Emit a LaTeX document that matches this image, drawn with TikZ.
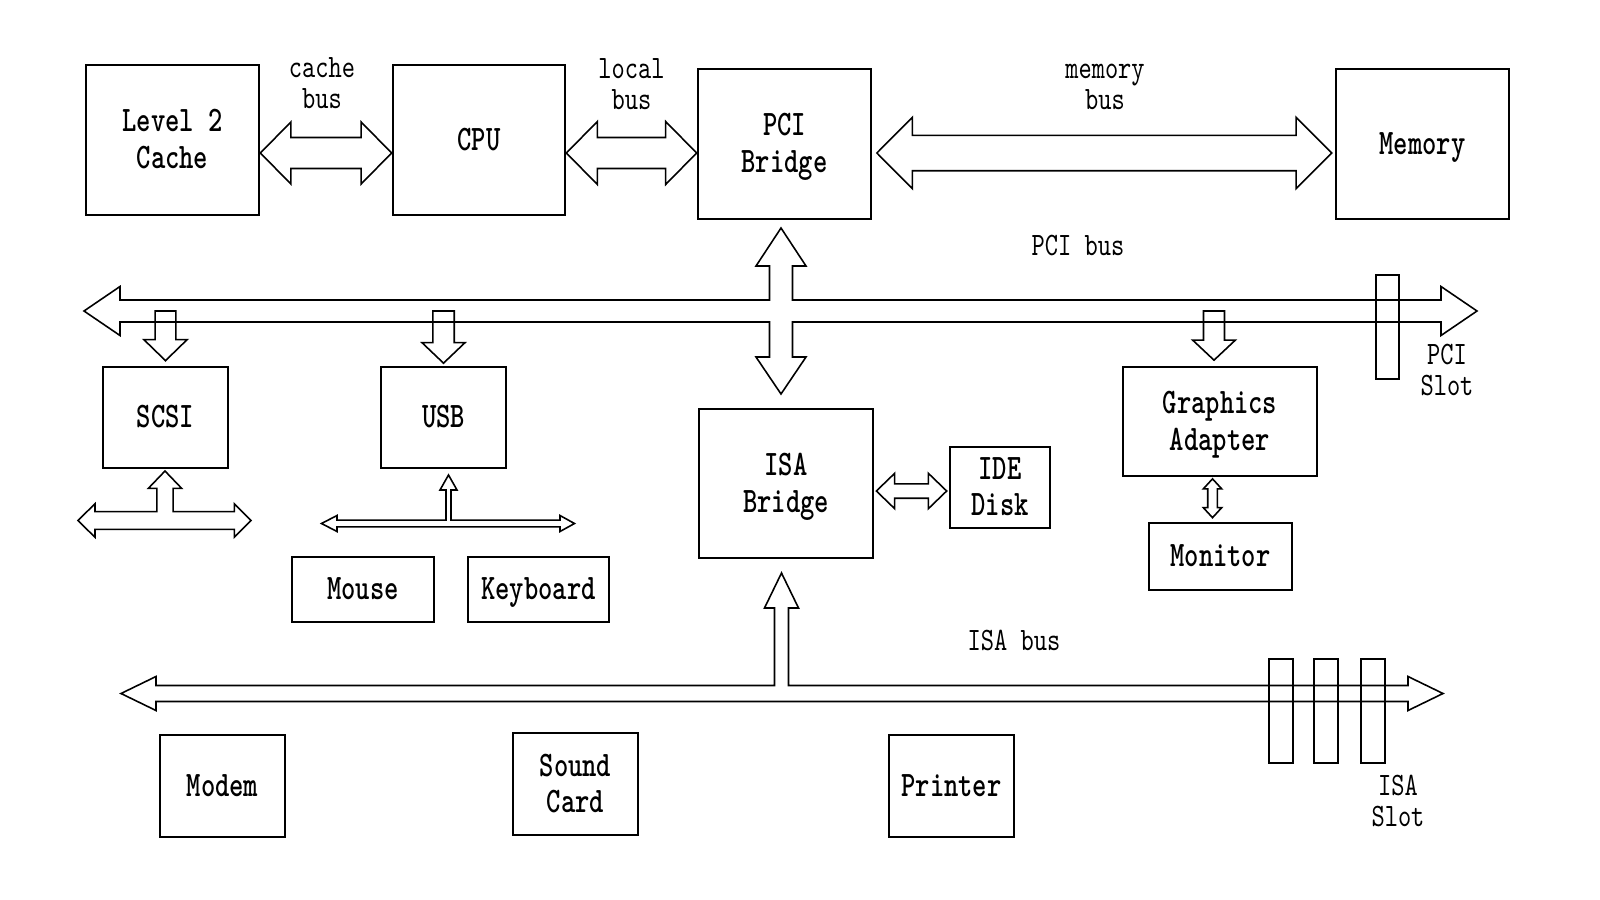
\documentclass[tikz,border=0pt]{standalone}
\usepackage{fontspec}
\usetikzlibrary{calc}

\newfontfamily\boxfont{lmmonolt10-bold}[Extension=.otf,FakeStretch=0.76]
\newfontfamily\busfont{lmmono10-regular}[Extension=.otf,FakeStretch=0.77]

\tikzset{
  unit/.style args={#1x#2}{draw, line width=0.75pt, minimum width=#1mm, minimum height=#2mm,
    inner sep=0pt, text depth=0.05em, align=center, font=\boxfont\fontsize{10.2}{10.4}\selectfont},
  buslabel/.style={align=center, inner sep=0pt, font=\busfont\fontsize{9.3}{8.8}\selectfont},
  bus/.style={draw, line width=0.45pt, line join=miter},
  slot/.style={draw, line width=0.45pt, minimum width=2.35mm, minimum height=10.4mm, inner sep=0pt},
}

% from, to, shaft half width, head half width, head length
\newcommand\hbusarrow[5]{%
  \draw[bus] let \p1=(#1), \p2=(#2) in
    (\x1,\y1) -- (\x1+#5,\y1+#4) -- (\x1+#5,\y1+#3) -- (\x2-#5,\y1+#3)
    -- (\x2-#5,\y1+#4) -- (\x2,\y1) -- (\x2-#5,\y1-#4) -- (\x2-#5,\y1-#3)
    -- (\x1+#5,\y1-#3) -- (\x1+#5,\y1-#4) -- cycle;}
\newcommand\vbusarrow[5]{%
  \draw[bus] let \p1=(#1), \p2=(#2) in
    (\x1,\y1) -- (\x1+#4,\y1-#5) -- (\x1+#3,\y1-#5) -- (\x1+#3,\y2+#5)
    -- (\x1+#4,\y2+#5) -- (\x1,\y2) -- (\x1-#4,\y2+#5) -- (\x1-#3,\y2+#5)
    -- (\x1-#3,\y1-#5) -- (\x1-#4,\y1-#5) -- cycle;}
\newcommand\dropbus[5]{%
  \draw[bus] let \p1=(#1), \p2=(#2) in
    (\x1-#3,\y1) -- (\x1+#3,\y1) -- (\x1+#3,\y2+#5) -- (\x1+#4,\y2+#5)
    -- (\x1,\y2) -- (\x1-#4,\y2+#5) -- (\x1-#3,\y2+#5) -- cycle;}

\begin{document}
\begin{tikzpicture}[x=0.01cm, y=-0.01cm]
  \useasboundingbox (0,0) rectangle (1600,900);

  \node[unit=17.3x15] (cache) at (172.5,140) {Level 2\\Cache};
  \node[unit=17.2x15] (cpu) at (479,140) {CPU};
  \node[unit=17.3x15] (pcib) at (784.5,144) {PCI\\Bridge};
  \node[unit=17.3x15] (mem) at (1422.5,144) {Memory};
  \node[unit=12.5x10.1] (scsi) at (165.5,417.5) {SCSI};
  \node[unit=12.5x10.1] (usb) at (443.5,417.5) {USB};
  \node[unit=17.4x14.9] (isab) at (786,483.5) {ISA\\Bridge};
  \node[unit=10x8.1] (ide) at (1000,487.5) {IDE\\Disk};
  \node[unit=19.4x10.9] (gfx) at (1220,421.5) {Graphics\\Adapter};
  \node[unit=14.3x6.7] (monitor) at (1220.5,556.5) {Monitor};
  \node[unit=14.2x6.5] (mouse) at (363,589.5) {Mouse};
  \node[unit=14.1x6.5] (keyb) at (538.5,589.5) {Keyboard};
  \node[unit=12.5x10.2] (modem) at (222.5,786) {Modem};
  \node[unit=12.5x10.2] (sound) at (575.5,784) {Sound\\Card};
  \node[unit=12.5x10.2] (printer) at (951.5,786) {Printer};

  \coordinate (toprow) at (0,153);
  \coordinate (iderow) at (0,491);
  \coordinate (pcibus) at (0,311);

  \hbusarrow{cache.east |- toprow}{cpu.west |- toprow}{1.55mm}{3.1mm}{3.05mm}
  \hbusarrow{cpu.east |- toprow}{pcib.west |- toprow}{1.55mm}{3.15mm}{3.1mm}
  \hbusarrow{$(pcib.east |- toprow)+(4.5,0)$}{$(mem.west |- toprow)+(-3,0)$}{1.77mm}{3.57mm}{3.55mm}
  \hbusarrow{$(isab.east |- iderow)+(2,0)$}{$(ide.west |- iderow)+(-2,0)$}{0.72mm}{1.77mm}{1.83mm}
  \vbusarrow{$(gfx.south)+(-7.5,1.5)$}{$(monitor.north)+(-7.5,-4)$}{0.48mm}{0.92mm}{1mm}

  \dropbus{scsi.north |- pcibus}{$(scsi.north)+(0,-5)$}{1.04mm}{2.16mm}{2.1mm}
  \dropbus{usb.north |- pcibus}{$(usb.north)+(0,-2.5)$}{1.07mm}{2.15mm}{2.05mm}
  \dropbus{$(gfx.north |- pcibus)+(-6,0)$}{$(gfx.north)+(-6,-5.5)$}{1.05mm}{2.13mm}{2mm}

  % PCI bus
  \draw[bus] (84,311) -- (120,286.5) -- (120,300) -- (769.5,300) -- (769.5,266) -- (756,266)
    -- (781,228) -- (806,266) -- (792.5,266) -- (792.5,300) -- (1441,300) -- (1441,286.5)
    -- (1477,311) -- (1441,335.5) -- (1441,322) -- (792.5,322) -- (792.5,357) -- (806,357)
    -- (781,394) -- (756,357) -- (769.5,357) -- (769.5,322) -- (120,322) -- (120,335.5) -- cycle;
  % ISA bus
  \draw[bus] (121,693.5) -- (156,676.5) -- (156,685.5) -- (774.5,685.5) -- (774.5,608)
    -- (764.5,608) -- (781.5,573) -- (798.5,608) -- (788.5,608) -- (788.5,685.5)
    -- (1408,685.5) -- (1408,676.5) -- (1443,693.5) -- (1408,710.5) -- (1408,701.5)
    -- (156,701.5) -- (156,710.5) -- cycle;
  % SCSI and USB cables
  \draw[bus] (78,520.5) -- (95,503.7) -- (95,511.7) -- (156.8,511.7) -- (156.8,488.3)
    -- (148.4,488.3) -- (165,471) -- (181.6,488.3) -- (173.2,488.3) -- (173.2,511.7)
    -- (234.3,511.7) -- (234.3,503.7) -- (251,520.5) -- (234.3,537.3) -- (234.3,529.3)
    -- (95,529.3) -- (95,537.3) -- cycle;
  \draw[bus] (321.5,523.5) -- (337,515.5) -- (337,520.2) -- (446,520.2) -- (446,490)
    -- (440,490) -- (448.5,475) -- (457,490) -- (451,490) -- (451,520.2) -- (560,520.2)
    -- (560,515.5) -- (574.5,523.5) -- (560,531.5) -- (560,526.8) -- (337,526.8)
    -- (337,531.5) -- cycle;

  \node[slot] (pcislot) at (1387.5,327) {};
  \foreach \x [count=\i] in {1281,1326,1373}
    \node[slot] (isaslot\i) at (\x,711) {};

  \node[buslabel] (cachelbl) at (322,83) {cache\\bus};
  \node[buslabel] (locallbl) at (631.5,84) {local\\bus};
  \node[buslabel] (memlbl) at (1105,86.5) {memory\\bus};
  \node[buslabel] (pcilbl) at (1078,246) {PCI bus};
  \node[buslabel] (isalbl) at (1014,640) {ISA bus};
  \node[buslabel] (pcislotlbl) at (1447,370) {PCI\\Slot};
  \node[buslabel] (isaslotlbl) at (1398,801) {ISA\\Slot};
\end{tikzpicture}
\end{document}
